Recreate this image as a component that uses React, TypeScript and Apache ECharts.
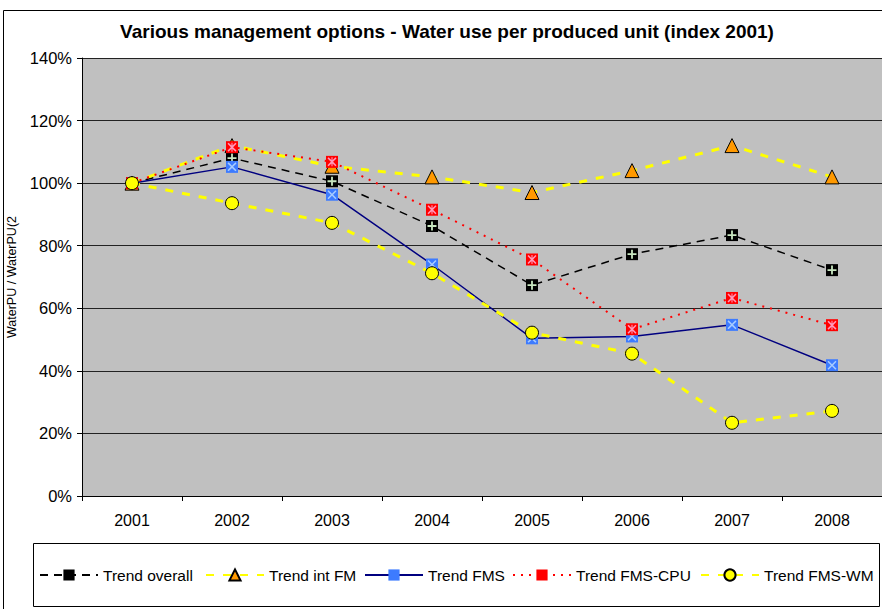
import React, { useEffect, useRef } from "react";
import * as echarts from "echarts";

const years = ["2001", "2002", "2003", "2004", "2005", "2006", "2007", "2008"];
const trendOverall = [100, 108, 100.6, 86.3, 67.4, 77.3, 83.4, 72.2];
const trendIntFM = [100, 112, 105.4, 102, 97, 104, 112, 102];
const trendFMS = [100, 105.2, 96.3, 74, 50.4, 51, 54.7, 41.8];
const trendFMSCPU = [100, 111.5, 106.8, 91.5, 75.6, 53.3, 63.3, 54.6];
const trendFMSWM = [100, 93.6, 87.3, 71.2, 52.2, 45.5, 23.4, 27.2];
const yTicks = [0, 20, 40, 60, 80, 100, 120, 140];

const PLUS = "path://M4,0H6V4H10V6H6V10H4V6H0V4H4Z";
const CROSS = "path://M1.2,0L5,3.8L8.8,0L10,1.2L6.2,5L10,8.8L8.8,10L5,6.2L1.2,10L0,8.8L3.8,5L0,1.2Z";
const STAR = "path://M1.2,0L5,3.8L8.8,0L10,1.2L6.2,5L10,8.8L8.8,10L5,6.2L1.2,10L0,8.8L3.8,5L0,1.2Z M4.4,0H5.6V10H4.4Z";

const FONT = "Liberation Sans, Arial, sans-serif";

export default function App() {
  const ref = useRef<HTMLDivElement>(null);
  useEffect(() => {
    document.body.style.margin = "0";
    const chart = echarts.init(ref.current!, null, { renderer: "svg" });
    const base = (name: string, data: number[], line: any, symbol: string, size: number, item: any) => ({
      name,
      type: "line",
      data,
      symbol,
      symbolSize: size,
      lineStyle: line,
      itemStyle: item,
      showAllSymbol: true,
    });
    const overlay = (data: number[], symbol: string, size: number, color: string) => ({
      type: "line",
      data,
      symbol,
      symbolSize: size,
      silent: true,
      lineStyle: { opacity: 0 },
      itemStyle: { color, borderWidth: 0 },
      tooltip: { show: false },
    });
    const legendItem = (name: string, left: number) => ({
      data: [name],
      left,
      top: 567,
      padding: 0,
      itemWidth: 58,
      itemHeight: 14,
      textStyle: { fontFamily: FONT, fontSize: 15.5, color: "#000" },
      selectedMode: false,
    });
    chart.setOption({
      animation: false,
      backgroundColor: "#fff",
      textStyle: { fontFamily: FONT },
      graphic: [
        { type: "rect", shape: { x: 3.5, y: 10.5, width: 890, height: 610 }, style: { fill: "none", stroke: "#000", lineWidth: 1 }, z: -1 },
        { type: "rect", shape: { x: 33.5, y: 543.5, width: 846, height: 63 }, style: { fill: "#fff", stroke: "#000", lineWidth: 1 }, z: 0 },
      ],
      title: {
        text: "Various management options - Water use per produced unit (index 2001)",
        left: 447,
        textAlign: "center",
        top: 22,
        padding: 0,
        textStyle: { fontFamily: FONT, fontSize: 19, fontWeight: "bold", color: "#000" },
      },
      grid: {
        left: 82,
        right: 0,
        top: 58,
        bottom: 113,
        show: true,
        backgroundColor: "#c0c0c0",
        borderWidth: 0,
        containLabel: false,
        outerBoundsMode: "none",
      },
      legend: [
        legendItem("Trend overall", 39),
        legendItem("Trend int FM", 205),
        legendItem("Trend FMS", 364),
        legendItem("Trend FMS-CPU", 512),
        legendItem("Trend FMS-WM", 700),
      ],
      xAxis: {
        type: "category",
        data: years,
        boundaryGap: true,
        axisLine: { lineStyle: { color: "#000", width: 1 } },
        axisTick: { show: true, length: 5, lineStyle: { color: "#000" } },
        axisLabel: { fontSize: 16, color: "#000", margin: 16, fontFamily: FONT },
      },
      yAxis: {
        type: "value",
        min: 0,
        max: 140,
        interval: 20,
        name: "WaterPU / WaterPU(2",
        nameLocation: "middle",
        nameRotate: 90,
        nameGap: 57,
        nameTextStyle: { fontSize: 12.5, color: "#000", fontFamily: FONT },
        axisLine: { show: true, lineStyle: { color: "#000" } },
        axisTick: { show: true, length: 5, lineStyle: { color: "#000" } },
        axisLabel: {
          fontSize: 16.5,
          color: "#000",
          margin: 10,
          fontFamily: FONT,
          formatter: (v: number) => (yTicks.includes(v) ? v + "%" : ""),
        },
        splitLine: { show: true, lineStyle: { color: "#222", width: 1 } },
      },
      series: [
        base("Trend overall", trendOverall, { color: "#000", width: 1.5, type: [8, 6] }, "rect", 12, { color: "#000" }),
        overlay(trendOverall, PLUS, 9, "#c8e6c0"),
        base("Trend int FM", trendIntFM, { color: "#ffff00", width: 3, type: [8, 9] }, "triangle", 14, { color: "#ff9900", borderColor: "#000", borderWidth: 1 }),
        base("Trend FMS", trendFMS, { color: "#000080", width: 1.5, type: "solid" }, "rect", 12, { color: "#3d7bff" }),
        overlay(trendFMS, CROSS, 9, "#a8ccff"),
        base("Trend FMS-CPU", trendFMSCPU, { color: "#ff0000", width: 2, type: [2, 6] }, "rect", 12, { color: "#ff0000" }),
        overlay(trendFMSCPU, STAR, 9, "#ff99bb"),
        base("Trend FMS-WM", trendFMSWM, { color: "#ffff00", width: 3, type: [8, 9] }, "circle", 13, { color: "#ffff00", borderColor: "#000", borderWidth: 1 }),
      ],
    });
    return () => chart.dispose();
  }, []);
  return <div ref={ref} style={{ width: 882, height: 609 }} />;
}
